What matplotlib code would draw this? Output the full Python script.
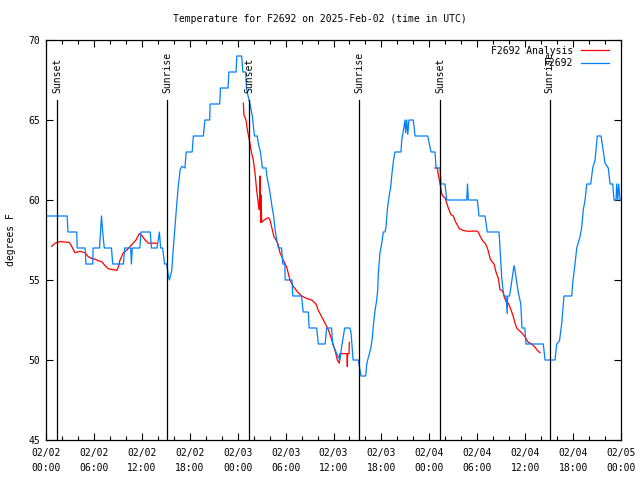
import matplotlib
matplotlib.use("Agg")
import matplotlib.pyplot as plt
import numpy as np

plt.rcParams['font.family'] = 'DejaVu Sans Mono'
plt.rcParams['font.size'] = 7

# hours since 2025-02-02 00:00 UTC, temperature in F
obs_hours = [0.0, 2.65, 2.75, 3.85, 3.9, 4.9, 5.0, 5.85, 5.9, 6.7, 6.95, 7.1, 7.3, 8.2, 8.35,
             9.7, 9.85, 10.6, 10.7, 10.8, 11.75, 11.9, 13.05, 13.2, 13.9, 14.2, 14.35, 14.6,
             14.85, 15.1, 15.35, 15.45, 15.75, 15.9, 16.1, 16.35, 16.55, 16.8, 17.0, 17.4,
             17.55, 18.3, 18.45, 19.7, 19.9, 20.5, 20.55, 21.75, 21.85, 22.8, 22.9, 23.8,
             23.9, 24.5, 24.65, 25.0, 25.1, 25.3, 25.55, 25.85, 26.1, 26.45, 26.6, 26.85,
             27.1, 27.55, 27.65, 28.0, 28.3, 28.5, 28.7, 28.9, 29.1, 29.5, 29.65, 29.9,
             29.95, 30.8, 30.9, 32.0, 32.2, 32.85, 32.95, 33.9, 34.1, 34.95, 35.15, 35.75,
             35.9, 36.4, 36.8, 37.0, 37.4, 38.05, 38.2, 38.45, 39.1, 39.45, 40.03, 40.16,
             40.28, 40.7, 40.86, 40.98, 41.2, 41.41, 41.54, 41.61, 41.82, 42.04, 42.24,
             42.45, 42.57, 42.74, 42.95, 43.16, 43.29, 43.49, 43.7, 44.45, 44.54, 44.74,
             44.95, 45.04, 45.17, 45.3, 45.45, 45.99, 46.21, 47.8, 47.96, 48.21, 48.71,
             48.84, 49.34, 49.46, 49.96, 50.18, 52.68, 52.78, 52.88, 54.01, 54.22, 54.97,
             55.26, 56.73, 56.9, 57.06, 57.2, 57.35, 57.6, 57.75, 57.8, 58.05, 58.45, 58.6,
             58.7, 58.9, 59.15, 59.45, 59.6, 59.95, 60.1, 62.27, 62.49, 63.74, 63.95, 64.3,
             64.58, 64.86, 65.83, 65.95, 66.24, 66.46, 66.87, 67.08, 67.28, 67.5, 67.71,
             68.21, 68.46, 68.75, 69.03, 69.5, 69.71, 70.0, 70.41, 70.63, 70.96, 71.13,
             71.38, 71.46, 71.59, 71.71, 71.88, 72.0]
obs_temps = [59, 59, 58, 58, 57, 57, 56, 56, 57, 57, 59, 58, 57, 57, 56,
             56, 57, 57, 56, 57, 57, 58, 58, 57, 57, 58, 57, 57,
             56, 56, 55.2, 55, 55.6, 56.7, 58, 59.6, 60.8, 61.9, 62.1, 62,
             63, 63, 64, 64, 65, 65, 66, 66, 67, 67, 68, 68,
             69, 69, 68, 68, 67, 66.5, 66, 65.2, 64, 64, 63.5, 63,
             62, 62, 61.5, 60.6, 59.6, 59, 58.1, 57.5, 57, 57, 56, 56,
             55, 55, 54, 54, 53, 53, 52, 52, 51, 51, 52, 52,
             51, 50.4, 50, 50.75, 52, 52, 51.7, 50, 50, 49, 49, 49.7,
             50, 50.8, 51.4, 52.1, 53.1, 53.75, 54.4, 55.4, 56.7, 57.3, 58,
             58, 58.3, 59.4, 60.2, 60.8, 61.5, 62.4, 63, 63, 63.75, 64.3,
             65, 64.2, 65, 64.1, 65, 65, 64, 64, 63.6, 63, 63,
             62, 62, 61, 61, 60, 60, 61, 60, 60, 59, 59,
             58, 58, 56.5, 55.2, 54.5, 54, 54, 52.9, 54, 54, 55.4, 55.9,
             55.7, 55, 54.2, 53.5, 52, 52, 51, 51, 50, 50, 51, 51.2,
             52.3, 54, 54, 54.8, 56, 57, 57.7, 58.3, 59.4, 60, 61,
             61, 62, 62.5, 64, 64, 63.3, 62.3, 62, 61, 61, 60,
             60, 61, 60, 61, 60, 60]

ana1_hours = [0.71, 1.13, 1.75, 2.92, 3.22, 3.63, 4.26, 4.88, 5.3, 5.72, 6.14, 6.55, 6.97,
              7.39, 7.8, 8.43, 8.85, 9.05, 9.27, 9.68, 10.18, 10.73, 11.27, 11.68, 11.98,
              12.4, 12.81, 13.24, 13.86]
ana1_temps = [57.1, 57.3, 57.4, 57.35, 57.1, 56.7, 56.8, 56.7, 56.45, 56.35, 56.3, 56.2, 56.15,
              55.9, 55.7, 55.65, 55.6, 55.8, 56.25, 56.7, 56.9, 57.2, 57.5, 57.9, 57.8,
              57.5, 57.3, 57.3, 57.3]

ana2_hours = [24.71, 24.79, 25.04, 25.21, 25.46, 25.76, 25.96, 26.17, 26.38, 26.58, 26.71,
              26.8, 26.88, 26.94, 27.0, 27.3, 27.84, 28.05, 28.26, 28.55, 28.8, 29.09,
              29.3, 29.71, 30.14, 30.55, 30.97, 31.59, 32.02, 32.64, 33.27, 33.81, 34.1,
              34.52, 34.94, 35.35, 35.78, 36.19, 36.48, 36.73, 36.8, 37.23, 37.69, 37.73,
              37.77, 37.94, 37.98]
ana2_temps = [66.05, 65.3, 65, 64.4, 63.75, 62.9, 62.5, 61.7, 60.6, 59.8, 59.4,
              61.5, 58.6, 60.3, 58.6, 58.75, 58.9, 58.75, 58.3, 57.7, 57.5, 57.2,
              56.7, 56.25, 55.8, 55, 54.6, 54.2, 54, 53.85, 53.75, 53.5, 53.1,
              52.7, 52.3, 51.9, 51.25, 50.6, 50, 49.8, 50.4, 50.4, 50.4, 49.6,
              50.4, 50.4, 51.1]

ana3_hours = [48.71, 49.0, 49.12, 49.25, 49.42, 49.55, 49.75, 49.96, 50.18, 50.38, 50.68,
              51.0, 51.22, 51.43, 51.75, 52.25, 52.68, 53.31, 53.93, 54.13, 54.35, 54.68,
              54.97, 55.19, 55.39, 55.6, 55.85, 56.1, 56.35, 56.64, 56.85, 57.19, 57.35,
              57.6, 57.89, 58.1, 58.32, 58.52, 58.73, 58.94, 59.14, 59.57, 59.98, 60.39,
              60.82, 61.23, 61.52, 61.86]
ana3_temps = [62, 62, 61.6, 61.25, 60.8, 60.4, 60.2, 60.15, 59.8, 59.5, 59.1,
              59, 58.7, 58.5, 58.2, 58.1, 58.05, 58.05, 58.06, 58, 57.75, 57.45,
              57.3, 57.1, 56.8, 56.35, 56.15, 56, 55.5, 55.1, 54.4, 54.3, 54,
              53.65, 53.55, 53.3, 53, 52.7, 52.3, 52, 51.9, 51.7, 51.45, 51.1,
              51, 50.8, 50.6, 50.45]

sun_hours = [1.38, 15.15, 25.41, 39.19, 49.39, 63.07]
sun_labels = ['Sunset', 'Sunrise', 'Sunset', 'Sunrise', 'Sunset', 'Sunrise']

tick_hours = list(range(0, 73, 6))
tick_labels = ['02/02\n00:00', '02/02\n06:00', '02/02\n12:00', '02/02\n18:00',
               '02/03\n00:00', '02/03\n06:00', '02/03\n12:00', '02/03\n18:00',
               '02/04\n00:00', '02/04\n06:00', '02/04\n12:00', '02/04\n18:00',
               '02/05\n00:00']

red = '#ff0000'
blue = '#0080ff'

fig = plt.figure(figsize=(6.4, 4.8), dpi=100)
ax = fig.add_axes([46 / 640, 40 / 480, 575 / 640, 400 / 480])

ax.plot(ana1_hours, ana1_temps, color=red, lw=0.9, label='F2692 Analysis')
ax.plot(ana2_hours, ana2_temps, color=red, lw=0.9)
ax.plot(ana3_hours, ana3_temps, color=red, lw=0.9)
ax.plot(obs_hours, obs_temps, color=blue, lw=0.9, label='F2692')

for h, lab in zip(sun_hours, sun_labels):
    ax.plot([h, h], [45, 66.25], color='black', lw=0.9)
    ax.text(h, 66.7, lab, rotation=90, ha='center', va='bottom')

ax.set_xlim(0, 72)
ax.set_ylim(45, 70)
ax.set_xticks(tick_hours)
ax.set_xticklabels(tick_labels, linespacing=1.6)
ax.set_xticks(np.arange(0, 73, 2), minor=True)
ax.set_yticks([45, 50, 55, 60, 65, 70])
ax.tick_params(direction='in', top=True, right=True, length=5, width=0.8, pad=6)
ax.tick_params(which='minor', direction='in', top=True, length=3, width=0.8)
ax.tick_params(axis='y', pad=4)
for sp in ax.spines.values():
    sp.set_linewidth(0.9)

ax.set_ylabel('degrees F', labelpad=9)
fig.suptitle('Temperature for F2692 on 2025-Feb-02 (time in UTC)', y=0.97, fontsize=7)

ax.legend(loc='upper right', frameon=False, markerfirst=False, handlelength=2.9,
          borderaxespad=0.2, labelspacing=0.25, handletextpad=0.8,
          bbox_to_anchor=(0.99, 1.0))

fig.savefig('out.png', dpi=100)
